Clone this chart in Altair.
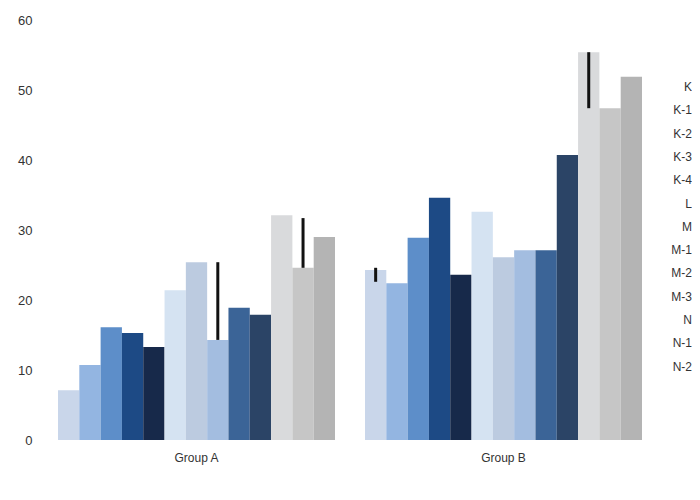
import altair as alt
import pandas as pd

groups = ["Group A", "Group B"]
series = ["K", "K-1", "K-2", "K-3", "K-4", "L", "M",
          "M-1", "M-2", "M-3", "N", "N-1", "N-2"]
values_a = [7.1, 10.7, 16.1, 15.3, 13.3, 21.4, 25.4, 14.3, 18.9, 17.9, 32.1, 24.6, 29.0]
values_b = [24.3, 22.4, 28.9, 34.6, 23.6, 32.6, 26.1, 27.1, 27.1, 40.7, 55.4, 47.4, 51.9]
colors = ["#c9d6ea", "#93b5e1", "#5d8ec9", "#1d4a85", "#17294a",
          "#d5e3f2", "#bccbe0", "#a3bde0", "#3b6497", "#2b4466",
          "#d9dadc", "#c6c6c6", "#b4b4b4"]

rule_groups = ["Group A", "Group A", "Group B", "Group B"]
rule_series = ["M-1", "N-1", "K", "N"]
rule_top = [25.4, 31.7, 24.6, 55.4]
rule_bottom = [14.3, 24.6, 22.6, 47.4]

rows = []
for g, vals in zip(groups, [values_a, values_b]):
    for s, v in zip(series, vals):
        rows.append({"group": g, "series": s, "value": v})
bars_df = pd.DataFrame(rows)
rules_df = pd.DataFrame({"group": rule_groups, "series": rule_series,
                         "top": rule_top, "bottom": rule_bottom})

x_enc = alt.X("group:N", sort=groups, title=None,
              scale=alt.Scale(paddingInner=0.0977, paddingOuter=0.0456),
              axis=alt.Axis(labelAngle=0, domain=False, ticks=False, tickSize=0,
                            labelPadding=12, labelFontSize=12, labelColor="#333"))
xo_enc = alt.XOffset("series:N", sort=series)

bars = alt.Chart(bars_df).mark_bar().encode(
    x=x_enc,
    xOffset=xo_enc,
    y=alt.Y("value:Q", title=None,
            scale=alt.Scale(domain=[0, 60], nice=False),
            axis=alt.Axis(values=[0, 10, 20, 30, 40, 50, 60], grid=False, domain=False,
                          ticks=False, tickSize=0, labelPadding=12, labelFontSize=13,
                          labelColor="#333")),
    color=alt.Color("series:N", sort=series,
                    scale=alt.Scale(domain=series, range=colors),
                    legend=alt.Legend(title=None, orient="none", legendX=632, legendY=61,
                                      symbolOpacity=0, labelFontSize=12, labelColor="#333",
                                      labelAlign="right", rowPadding=11.3)),
)

rules = alt.Chart(rules_df).mark_rule(color="#111111", strokeWidth=3, xOffset=10.65).encode(
    x=x_enc,
    xOffset=xo_enc,
    y=alt.Y("top:Q"),
    y2="bottom:Q",
)

chart = alt.layer(bars, rules).properties(
    width=612, height=420,
    autosize=alt.AutoSizeParams(type="none"),
    padding={"left": 36, "top": 12, "right": 36, "bottom": 30},
).configure_view(stroke=None)

chart.save("out.html", embed_options={"renderer": "svg", "actions": False})
